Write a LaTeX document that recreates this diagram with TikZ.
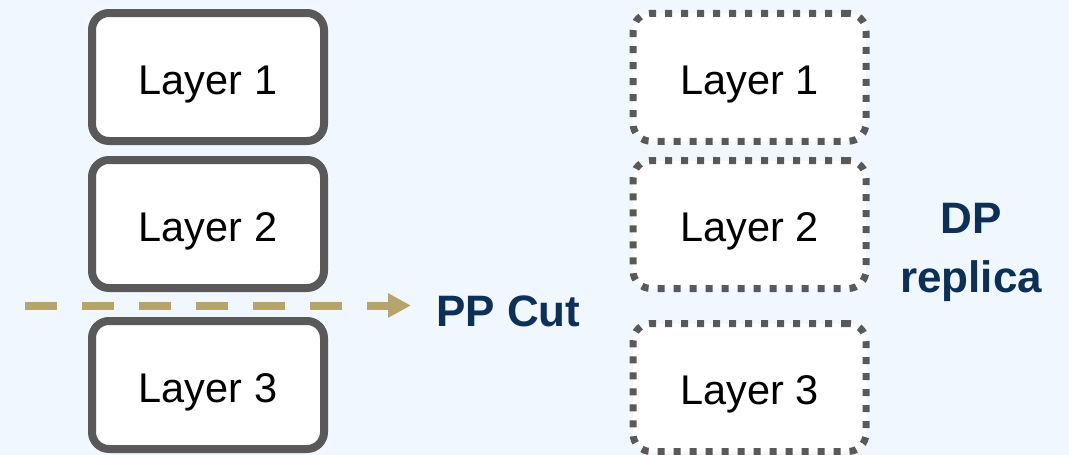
\documentclass[tikz,border=0pt]{standalone}
\usepackage{fontspec}
\setmainfont{Liberation Sans}
\usetikzlibrary{arrows.meta}
\definecolor{bgblue}{HTML}{F0F7FE}
\definecolor{boxgray}{HTML}{595959}
\definecolor{cuttan}{HTML}{B5A56C}
\definecolor{navy}{HTML}{0C3056}
\begin{document}
\begin{tikzpicture}[x=1pt,y=-1pt,
  layer/.style={draw=boxgray, fill=white, line width=8pt, rounded corners=17pt,
    minimum width=232pt, minimum height=128pt, inner sep=0pt,
    font=\fontsize{41.5}{48}\selectfont, text height=34pt, text depth=0pt},
  replica/.style={layer, line width=7pt, dash pattern=on 7pt off 9pt,
    rounded corners=18pt, minimum width=233pt},
  note/.style={text=navy, font=\fontsize{44}{59}\selectfont\bfseries, inner sep=0pt},
  cut/.style={draw=cuttan, line width=8pt, dash pattern=on 32pt off 25pt,
    -{Triangle[length=23pt,width=23pt]}}]
  % canvas
  \fill[bgblue] (0,0) rectangle (1069,455);
  \useasboundingbox (0,0) rectangle (1069,455);
  % the model split into pipeline stages
  \node[layer] (L1) at (208,77) {Layer 1};
  \node[layer] (L2) at (208,224) {Layer 2};
  \node[layer] (L3) at (208,385) {Layer 3};
  % the data-parallel copy
  \node[replica] (R1) at (749.5,77.25) {Layer 1};
  \node[replica] (R2) at (749.5,224.5) {Layer 2};
  \node[replica] (R3) at (749.5,387.5) {Layer 3};
  % pipeline cut between layer 2 and layer 3
  \coordinate (cutfrom) at (25,305.5);
  \coordinate (cutto) at (411,305.5);
  \draw[cut] (cutfrom) -- (cutto);
  \node[note, anchor=base west] (cutlabel) at (436,326) {PP Cut};
  \node[note, align=center, anchor=base] (dplabel) at (971,292) {DP\\replica};
\end{tikzpicture}
\end{document}
